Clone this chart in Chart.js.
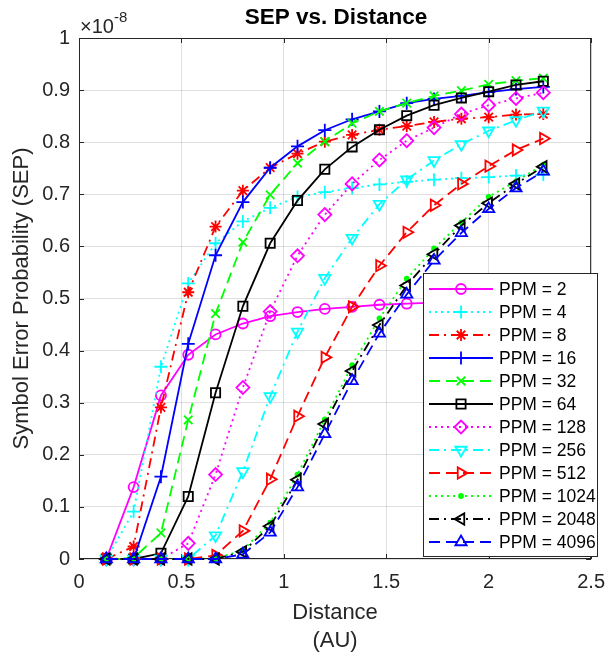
<!DOCTYPE html>
<html>
<head>
<meta charset="utf-8">
<script src="https://cdn.jsdelivr.net/npm/chart.js@4/dist/chart.umd.min.js"></script>
<style>
  html,body{margin:0;padding:0;background:#fff;}
  #wrap{width:616px;height:657px;position:relative;}
</style>
</head>
<body>
<div id="wrap"><canvas id="c" width="616" height="657"></canvas></div>
<script>
// ---- Data (SEP values are in units of 1e-8, as shown on the axis) ----
const distance = [0.1333,0.2667,0.4,0.5333,0.6667,0.8,0.9333,1.0667,1.2,1.3333,1.4667,1.6,1.7333,1.8667,2.0,2.1333,2.2667];
const ppmLabels = ["PPM = 2","PPM = 4","PPM = 8","PPM = 16","PPM = 32","PPM = 64","PPM = 128","PPM = 256","PPM = 512","PPM = 1024","PPM = 2048","PPM = 4096"];
const sep2    = [0,0.138,0.314,0.392,0.431,0.452,0.466,0.474,0.480,0.484,0.488,0.490,0.492,0.494,0.495,0.496,0.497];
const sep4    = [0,0.091,0.369,0.529,0.606,0.648,0.674,0.695,0.704,0.712,0.719,0.724,0.728,0.731,0.733,0.736,0.738];
const sep8    = [0,0.024,0.291,0.512,0.638,0.707,0.751,0.778,0.801,0.814,0.824,0.831,0.839,0.845,0.848,0.853,0.854];
const sep16   = [0,0,0.158,0.413,0.583,0.685,0.751,0.792,0.823,0.844,0.859,0.875,0.883,0.889,0.896,0.902,0.906];
const sep32   = [0,0.002,0.050,0.267,0.471,0.608,0.699,0.760,0.801,0.836,0.859,0.875,0.889,0.899,0.911,0.918,0.923];
const sep64   = [0,0,0.011,0.120,0.319,0.485,0.606,0.688,0.748,0.791,0.824,0.851,0.871,0.885,0.897,0.910,0.917];
const sep128  = [0,0,0,0.030,0.162,0.329,0.475,0.582,0.661,0.720,0.766,0.803,0.828,0.854,0.871,0.884,0.895];
const sep256  = [0,0,0,0,0.045,0.168,0.312,0.436,0.539,0.616,0.681,0.728,0.765,0.796,0.822,0.842,0.860];
const sep512  = [0,0,0,0,0.007,0.054,0.153,0.274,0.387,0.484,0.563,0.627,0.679,0.720,0.754,0.785,0.807];
const sep1024 = [0,0,0,0,0.001,0.017,0.070,0.162,0.268,0.372,0.462,0.538,0.596,0.646,0.695,0.725,0.757];
const sep2048 = [0,0,0,0,0,0.014,0.063,0.152,0.259,0.361,0.449,0.525,0.585,0.640,0.683,0.720,0.753];
const sep4096 = [0,0,0,0,0,0.009,0.051,0.138,0.240,0.342,0.433,0.508,0.573,0.626,0.672,0.712,0.744];
const xTicks = [0,0.5,1,1.5,2,2.5];
const yTicks = [0,0.1,0.2,0.3,0.4,0.5,0.6,0.7,0.8,0.9,1];
const yExponent = "-8";

const seriesValues = [sep2,sep4,sep8,sep16,sep32,sep64,sep128,sep256,sep512,sep1024,sep2048,sep4096];

// ---- Styles ----
const FONT = "'Liberation Sans', Arial, Helvetica, sans-serif";
const AX = '#262626';
const DOT = [2,4], DASH = [11,6], DASHDOT = [10,5,2,5], SOLID = [];
const styles = [
  {c:'#ff00ff', dash:SOLID,   ps:'circle',   r:5,   rot:0,   fill:false},
  {c:'#00ffff', dash:DOT,     ps:'cross',    r:6.5, rot:0,   fill:false},
  {c:'#ff0000', dash:DASHDOT, ps:'star',     r:6,   rot:0,   fill:false},
  {c:'#0000ff', dash:SOLID,   ps:'cross',    r:6.5, rot:0,   fill:false},
  {c:'#00ff00', dash:DASH,    ps:'crossRot', r:6,   rot:0,   fill:false},
  {c:'#000000', dash:SOLID,   ps:'rect',     r:6.5, rot:0,   fill:false},
  {c:'#ff00ff', dash:DOT,     ps:'rectRot',  r:6.5, rot:0,   fill:false},
  {c:'#00ffff', dash:DASHDOT, ps:'triangle', r:6.5, rot:180, fill:false},
  {c:'#ff0000', dash:DASH,    ps:'triangle', r:6.5, rot:90,  fill:false},
  {c:'#00ff00', dash:DOT,     ps:'circle',   r:2,   rot:0,   fill:true},
  {c:'#000000', dash:DASHDOT, ps:'triangle', r:6.5, rot:270, fill:false},
  {c:'#0000ff', dash:DASH,    ps:'triangle', r:6.5, rot:0,   fill:false}
];

const datasets = seriesValues.map((vals, i) => {
  const s = styles[i];
  return {
    label: ppmLabels[i],
    data: vals.map((v, k) => ({x: distance[k], y: v})),
    borderColor: s.c,
    backgroundColor: s.fill ? s.c : 'rgba(0,0,0,0)',
    borderWidth: 1.8,
    borderDash: s.dash,
    pointStyle: s.ps,
    pointRadius: s.r,
    pointRotation: s.rot,
    pointBorderColor: s.c,
    pointBackgroundColor: s.fill ? s.c : 'rgba(0,0,0,0)',
    pointBorderWidth: 1.8,
    tension: 0,
    clip: false,
    order: seriesValues.length - i
  };
});

function drawMarker(ctx, s, x, y) {
  ctx.save();
  ctx.setLineDash([]);
  ctx.strokeStyle = s.c;
  ctx.fillStyle = s.fill ? s.c : 'rgba(0,0,0,0)';
  ctx.lineWidth = 1.8;
  if (Chart.helpers && Chart.helpers.drawPoint) {
    Chart.helpers.drawPoint(ctx, {pointStyle: s.ps, rotation: s.rot, radius: s.r, borderWidth: 1.8}, x, y);
  }
  ctx.restore();
}

const decor = {
  id: 'decor',
  beforeDatasetsDraw(chart) {
    const {ctx, chartArea: a, scales} = chart;
    ctx.save();
    ctx.strokeStyle = AX;
    ctx.lineWidth = 1;
    ctx.setLineDash([]);
    ctx.strokeRect(a.left + 0.5, a.top + 0.5, a.right - a.left - 1, a.bottom - a.top - 1);
    const tl = 5;
    ctx.beginPath();
    xTicks.forEach(v => {
      const px = Math.round(scales.x.getPixelForValue(v)) + 0.5;
      ctx.moveTo(px, a.bottom); ctx.lineTo(px, a.bottom - tl);
      ctx.moveTo(px, a.top); ctx.lineTo(px, a.top + tl);
    });
    yTicks.forEach(v => {
      const py = Math.round(scales.y.getPixelForValue(v)) + 0.5;
      ctx.moveTo(a.left, py); ctx.lineTo(a.left + tl, py);
      ctx.moveTo(a.right, py); ctx.lineTo(a.right - tl, py);
    });
    ctx.stroke();
    ctx.restore();
  },
  afterDraw(chart) {
    const {ctx, chartArea: a} = chart;
    ctx.save();
    // Title
    ctx.fillStyle = '#000';
    ctx.font = 'bold 22.5px ' + FONT;
    ctx.textAlign = 'center';
    ctx.textBaseline = 'middle';
    ctx.fillText('SEP vs. Distance', (a.left + a.right) / 2 + 1, 18);
    // Exponent
    ctx.fillStyle = AX;
    ctx.textAlign = 'left';
    ctx.textBaseline = 'alphabetic';
    ctx.font = '20px ' + FONT;
    const base = '\u00d710';
    ctx.fillText(base, a.left + 1, 33);
    const w = ctx.measureText(base).width;
    ctx.font = '15px ' + FONT;
    ctx.fillText(yExponent, a.left + 1 + w, 22);
    // Axis titles
    ctx.font = '22px ' + FONT;
    ctx.textAlign = 'center';
    ctx.textBaseline = 'middle';
    ctx.fillText('Distance', (a.left + a.right) / 2, 613);
    ctx.fillText('(AU)', (a.left + a.right) / 2, 641);
    ctx.save();
    ctx.translate(22, (a.top + a.bottom) / 2);
    ctx.rotate(-Math.PI / 2);
    ctx.fillText('Symbol Error Probability (SEP)', 0, 0);
    ctx.restore();
    // Legend
    const L = {x: 423, y: 273, w: 174, h: 283, row0: 289, dy: 23};
    ctx.fillStyle = '#fff';
    ctx.fillRect(L.x, L.y, L.w, L.h);
    ctx.strokeStyle = AX;
    ctx.lineWidth = 1;
    ctx.setLineDash([]);
    ctx.strokeRect(L.x + 0.5, L.y + 0.5, L.w, L.h);
    ctx.font = '17.5px ' + FONT;
    ctx.textAlign = 'left';
    ctx.textBaseline = 'middle';
    styles.forEach((s, i) => {
      const yy = L.row0 + i * L.dy;
      ctx.save();
      ctx.strokeStyle = s.c;
      ctx.lineWidth = 1.8;
      ctx.setLineDash(s.dash);
      ctx.beginPath();
      ctx.moveTo(L.x + 6, yy);
      ctx.lineTo(L.x + 70, yy);
      ctx.stroke();
      ctx.restore();
      drawMarker(ctx, s, L.x + 38, yy);
      ctx.fillStyle = '#000';
      ctx.fillText(ppmLabels[i], L.x + 76, yy + 1);
    });
    ctx.restore();
  }
};

new Chart(document.getElementById('c'), {
  type: 'line',
  data: {datasets},
  options: {
    responsive: false,
    animation: false,
    devicePixelRatio: 1,
    layout: {padding: {left: 0, top: 38, right: 18, bottom: 0}},
    plugins: {legend: {display: false}, title: {display: false}, tooltip: {enabled: false}},
    elements: {line: {borderCapStyle: 'butt'}},
    scales: {
      x: {
        type: 'linear', min: 0, max: 2.5,
        afterBuildTicks: s => { s.ticks = xTicks.map(v => ({value: v})); },
        afterFit: s => { s.height = 98; },
        ticks: {font: {family: FONT, size: 20}, color: AX, padding: 11, maxRotation: 0,
                callback: v => String(v)},
        grid: {color: 'rgba(38,38,38,0.15)', drawTicks: false, lineWidth: 1},
        border: {display: false}
      },
      y: {
        type: 'linear', min: 0, max: 1,
        afterBuildTicks: s => { s.ticks = yTicks.map(v => ({value: v})); },
        afterFit: s => { s.width = 79; },
        ticks: {font: {family: FONT, size: 20}, color: AX, padding: 9,
                callback: v => String(v)},
        grid: {color: 'rgba(38,38,38,0.15)', drawTicks: false, lineWidth: 1},
        border: {display: false}
      }
    }
  },
  plugins: [decor]
});
</script>
</body>
</html>
